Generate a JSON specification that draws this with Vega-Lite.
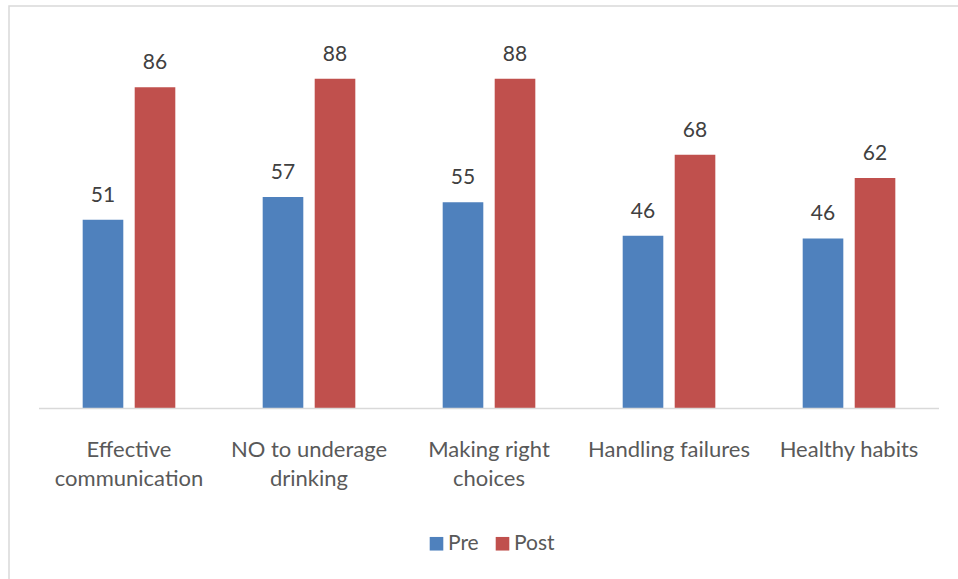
{
  "$schema": "https://vega.github.io/schema/vega-lite/v6.json",
  "width": 952,
  "height": 576,
  "autosize": {"type": "none"},
  "padding": {"left": 9, "top": 6, "right": -3, "bottom": -3},
  "background": "white",
  "config": {
    "view": {"stroke": "#D9D9D9", "strokeWidth": 1.5},
    "font": "Lato"
  },
  "data": {
    "values": [
      {"skill": "Effective communication", "phase": "Pre", "value": 50.6},
      {"skill": "Effective communication", "phase": "Post", "value": 86.1},
      {"skill": "NO to underage drinking", "phase": "Pre", "value": 56.7},
      {"skill": "NO to underage drinking", "phase": "Post", "value": 88.4},
      {"skill": "Making right choices", "phase": "Pre", "value": 55.3},
      {"skill": "Making right choices", "phase": "Post", "value": 88.4},
      {"skill": "Handling failures", "phase": "Pre", "value": 46.3},
      {"skill": "Handling failures", "phase": "Post", "value": 68.0},
      {"skill": "Healthy habits", "phase": "Pre", "value": 45.6},
      {"skill": "Healthy habits", "phase": "Post", "value": 61.8}
    ]
  },
  "encoding": {
    "x": {
      "field": "skill",
      "type": "nominal",
      "sort": ["Effective communication", "NO to underage drinking", "Making right choices", "Handling failures", "Healthy habits"],
      "scale": {"paddingInner": 0, "paddingOuter": 0.1444, "align": 0.577},
      "axis": {
        "title": null,
        "orient": "bottom",
        "offset": -173.5,
        "domain": false,
        "ticks": false,
        "tickSize": 0,
        "labelAngle": 0,
        "labelPadding": 48,
        "labelBaseline": "alphabetic",
        "labelFontSize": 22,
        "labelLineHeight": 29,
        "labelColor": "#595959",
        "labelFont": "Lato",
        "labelLimit": 300,
        "labelExpr": "datum.label == 'Effective communication' ? ['Effective', 'communication'] : datum.label == 'NO to underage drinking' ? ['NO to underage', 'drinking'] : datum.label == 'Making right choices' ? ['Making right', 'choices'] : datum.label"
      }
    }
  },
  "layer": [
    {
      "mark": {"type": "bar"},
      "encoding": {
        "xOffset": {"field": "phase", "type": "nominal", "sort": ["Pre", "Post"], "scale": {"paddingInner": 0.219, "paddingOuter": 0.84}},
        "y": {"field": "value", "type": "quantitative", "stack": null, "scale": {"domain": [-46.5, 107.9], "nice": false, "zero": false}, "axis": null},
        "color": {
          "field": "phase",
          "type": "nominal",
          "sort": ["Pre", "Post"],
          "scale": {"domain": ["Pre", "Post"], "range": ["#4F81BD", "#C0504D"]},
          "legend": {
            "title": null,
            "orient": "none",
            "direction": "horizontal",
            "legendX": 417,
            "legendY": 527,
            "symbolType": "square",
            "symbolSize": 185,
            "symbolStrokeWidth": 0,
            "symbolOpacity": 1,
            "labelFontSize": 21,
            "labelColor": "#595959",
            "labelFont": "Lato",
            "labelOffset": 1,
            "columnPadding": 13
          }
        }
      }
    },
    {
      "mark": {"type": "text", "baseline": "alphabetic", "dy": -18, "fontSize": 21, "color": "#404040", "font": "Lato"},
      "encoding": {
        "xOffset": {"field": "phase", "type": "nominal", "sort": ["Pre", "Post"]},
        "y": {"field": "value", "type": "quantitative", "stack": null},
        "text": {"field": "value", "type": "quantitative", "format": ".0f"}
      }
    },
    {
      "data": {"values": [{}]},
      "mark": {"type": "rule", "color": "#D9D9D9", "strokeWidth": 1.5},
      "encoding": {
        "x": {"datum": "Effective communication", "bandPosition": 0},
        "x2": {"datum": "Healthy habits", "bandPosition": 1},
        "y": {"datum": 0, "type": "quantitative"}
      }
    }
  ]
}
